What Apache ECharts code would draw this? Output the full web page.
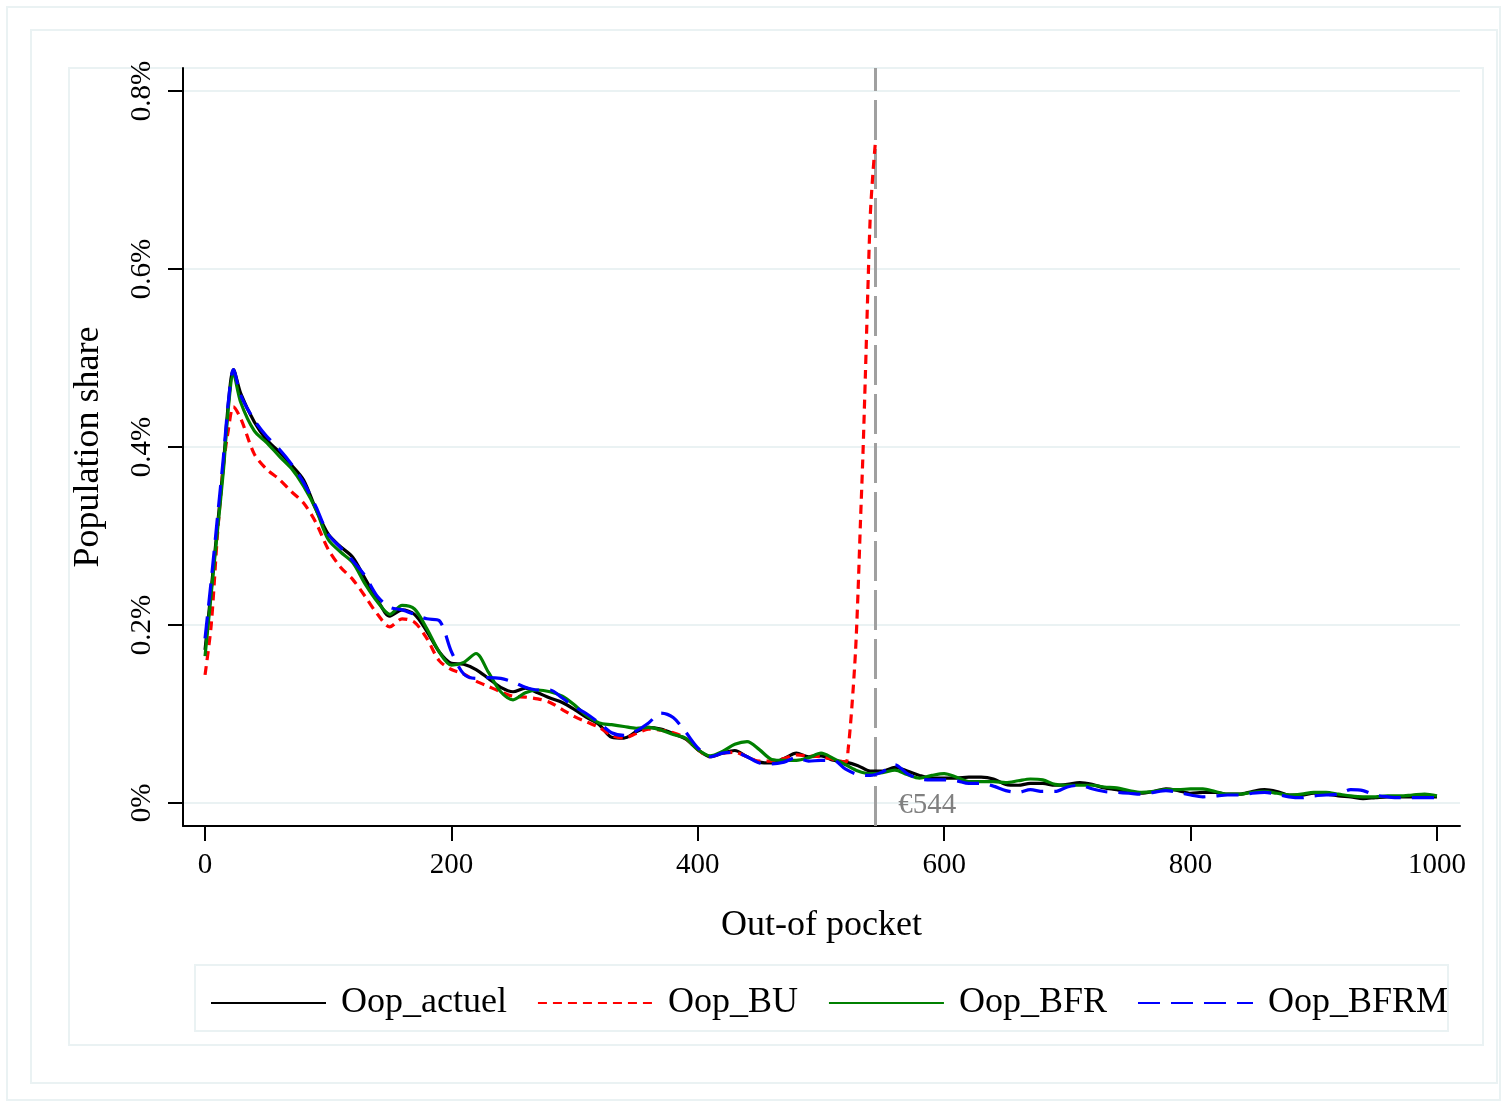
<!DOCTYPE html>
<html>
<head>
<meta charset="utf-8">
<script src="https://cdn.jsdelivr.net/npm/echarts@6/dist/echarts.min.js"></script>
<style>
  html, body { margin: 0; padding: 0; background: #fff; }
  #chart { width: 1507px; height: 1105px; }
</style>
</head>
<body>
<div id="chart"></div>
<script>
// x positions (out-of-pocket, €)
const xs = [0, 5, 10, 15, 19, 23, 29,
  40, 50, 60, 70, 80, 90, 100, 110, 120, 130, 140,
  150, 160, 170, 180, 190, 200, 210, 220, 230, 240, 250,
  260, 270, 280, 290, 300, 310, 320, 330, 340, 350, 360,
  370, 380, 390, 400, 410, 420, 430, 440, 450, 460, 470,
  480, 490, 500, 510, 520, 530, 540, 550, 560, 570, 580,
  590, 600, 610, 620, 630, 640, 650, 660, 670, 680, 690,
  700, 710, 720, 730, 740, 750, 760, 770, 780, 790, 800,
  810, 820, 830, 840, 850, 860, 870, 880, 890, 900, 910,
  920, 930, 940, 950, 960, 970, 980, 990, 1000]

// population share (%)
const oopActuel = [0.172, 0.24, 0.31, 0.382, 0.45, 0.487, 0.46,
  0.428, 0.408, 0.395, 0.380, 0.363, 0.330, 0.302, 0.288, 0.276, 0.252, 0.228,
  0.210, 0.217, 0.212, 0.193, 0.170, 0.157, 0.156, 0.150, 0.140, 0.130, 0.125,
  0.129, 0.124, 0.118, 0.113, 0.105, 0.096, 0.088, 0.074, 0.073, 0.080, 0.085,
  0.083, 0.078, 0.072, 0.060, 0.052, 0.056, 0.059, 0.052, 0.046, 0.045, 0.050,
  0.056, 0.052, 0.053, 0.048, 0.046, 0.042, 0.036, 0.036, 0.040, 0.036, 0.031,
  0.028, 0.028, 0.028, 0.029, 0.029, 0.027, 0.021, 0.020, 0.022, 0.022, 0.020,
  0.021, 0.023, 0.021, 0.017, 0.015, 0.012, 0.011, 0.013, 0.016, 0.014, 0.011,
  0.012, 0.012, 0.010, 0.010, 0.013, 0.015, 0.013, 0.009, 0.009, 0.011, 0.010,
  0.008, 0.007, 0.005, 0.006, 0.007, 0.007, 0.007, 0.007, 0.007]

const oopBFR = [0.165, 0.235, 0.305, 0.375, 0.445, 0.482, 0.45,
  0.418, 0.405, 0.390, 0.376, 0.356, 0.330, 0.296, 0.282, 0.270, 0.246, 0.226,
  0.212, 0.222, 0.218, 0.196, 0.170, 0.155, 0.158, 0.168, 0.147, 0.125, 0.116,
  0.124, 0.127, 0.125, 0.120, 0.110, 0.098, 0.090, 0.088, 0.086, 0.084, 0.085,
  0.082, 0.077, 0.073, 0.060, 0.053, 0.058, 0.066, 0.069, 0.060, 0.049, 0.048,
  0.048, 0.051, 0.056, 0.050, 0.043, 0.036, 0.033, 0.034, 0.037, 0.032, 0.028,
  0.031, 0.033, 0.029, 0.024, 0.024, 0.024, 0.023, 0.025, 0.027, 0.026, 0.021,
  0.020, 0.020, 0.020, 0.018, 0.017, 0.014, 0.012, 0.013, 0.015, 0.015, 0.016,
  0.016, 0.013, 0.010, 0.010, 0.012, 0.013, 0.011, 0.009, 0.010, 0.012, 0.012,
  0.010, 0.008, 0.007, 0.007, 0.008, 0.008, 0.009, 0.010, 0.008]

const oopBFRM = [0.185, 0.25, 0.32, 0.39, 0.452, 0.487, 0.458,
  0.430, 0.412, 0.398, 0.381, 0.360, 0.333, 0.302, 0.287, 0.272, 0.255, 0.232,
  0.220, 0.217, 0.212, 0.207, 0.205, 0.170, 0.145, 0.140, 0.141, 0.140, 0.136,
  0.130, 0.127, 0.127, 0.118, 0.108, 0.100, 0.090, 0.079, 0.076, 0.081, 0.090,
  0.101, 0.096, 0.080, 0.062, 0.052, 0.056, 0.057, 0.052, 0.045, 0.044, 0.046,
  0.051, 0.047, 0.048, 0.048, 0.038, 0.032, 0.031, 0.035, 0.043, 0.033, 0.027,
  0.026, 0.026, 0.025, 0.022, 0.022, 0.019, 0.014, 0.012, 0.015, 0.013, 0.013,
  0.018, 0.020, 0.016, 0.013, 0.012, 0.011, 0.010, 0.012, 0.014, 0.012, 0.009,
  0.007, 0.008, 0.009, 0.009, 0.011, 0.012, 0.010, 0.007, 0.006, 0.008, 0.009,
  0.010, 0.015, 0.014, 0.009, 0.007, 0.006, 0.006, 0.006, 0.006]

// Oop_BU stops at the €544 threshold, with a spike just before it
const oopBU = [0.144, 0.20, 0.30, 0.38, 0.42, 0.445, 0.432,
  0.392, 0.375, 0.364, 0.350, 0.337, 0.315, 0.285, 0.265, 0.251, 0.232, 0.212,
  0.198, 0.207, 0.203, 0.185, 0.160, 0.150, 0.145, 0.137, 0.131, 0.125, 0.120,
  0.119, 0.117, 0.113, 0.105, 0.097, 0.091, 0.085, 0.076, 0.073, 0.078, 0.083,
  0.082, 0.079, 0.073, 0.060, 0.052, 0.056, 0.057, 0.052, 0.047, 0.047, 0.050,
  0.054, 0.053, 0.052, 0.049, 0.046]
const spikeX = [522, 525, 528, 530, 532, 534, 536, 538, 540, 542, 544]
const spikeBU = [0.060, 0.107, 0.170, 0.235, 0.315, 0.390, 0.480, 0.575, 0.660, 0.705, 0.740]

const threshold = 544
const xTicks = [0, 200, 400, 600, 800, 1000]
const yTicks = [0, 0.2, 0.4, 0.6, 0.8]

const pairs = (x, y) => y.map((v, i) => [x[i], v])

const font = "'Liberation Serif', 'Times New Roman', serif"
const light = '#eaf2f3'

const chart = echarts.init(document.getElementById('chart'))

const option = {
  animation: false,
  backgroundColor: '#fff',
  textStyle: { fontFamily: font },
  graphic: [
    { type: 'rect', shape: { x: 7, y: 7, width: 1493, height: 1093 }, style: { fill: 'none', stroke: light, lineWidth: 2 }, z: -10 },
    { type: 'rect', shape: { x: 31, y: 30, width: 1466, height: 1053 }, style: { fill: 'none', stroke: light, lineWidth: 2 }, z: -10 },
    { type: 'rect', shape: { x: 69, y: 68, width: 1414, height: 977 }, style: { fill: 'none', stroke: light, lineWidth: 2 }, z: -10 }
  ],
  grid: {
    left: 183,
    top: 68,
    width: 1277,
    height: 758,
    containLabel: false
  },
  legend: {
    data: ['Oop_actuel', 'Oop_BU', 'Oop_BFR', 'Oop_BFRM'],
    left: 195,
    top: 965,
    orient: 'horizontal',
    itemWidth: 115,
    itemHeight: 14,
    itemGap: 30,
    padding: [19, 0, 9, 15],
    borderColor: light,
    borderWidth: 2,
    itemStyle: { opacity: 0 },
    textStyle: { fontFamily: font, fontSize: 36, color: '#000', lineHeight: 38, padding: [0, 0, 0, 10] }
  },
  xAxis: {
    type: 'value',
    min: -17.9,
    max: 1018.7,
    name: 'Out-of pocket',
    nameLocation: 'middle',
    nameGap: 82,
    nameTextStyle: { fontFamily: font, fontSize: 36, color: '#000' },
    axisLine: { show: true, onZero: false, lineStyle: { color: '#000', width: 2 } },
    axisTick: { show: true, length: 15, customValues: xTicks, lineStyle: { color: '#000', width: 2 } },
    axisLabel: {
      customValues: xTicks,
      margin: 25,
      fontFamily: font,
      fontSize: 29,
      color: '#000',
      formatter: v => String(v)
    },
    splitLine: { show: false }
  },
  yAxis: {
    type: 'value',
    min: -0.0258,
    max: 0.8258,
    name: 'Population share',
    nameLocation: 'middle',
    nameGap: 76,
    nameTextStyle: { fontFamily: font, fontSize: 36, color: '#000' },
    axisLine: { show: true, onZero: false, lineStyle: { color: '#000', width: 2 } },
    axisTick: { show: true, length: 15, customValues: yTicks, lineStyle: { color: '#000', width: 2 } },
    axisLabel: {
      customValues: yTicks,
      rotate: 90,
      margin: 26,
      fontFamily: font,
      fontSize: 29,
      color: '#000',
      formatter: v => (v === 0 ? '0%' : v.toFixed(1) + '%')
    },
    splitLine: { show: true, lineStyle: { color: light, width: 2 } }
  },
  series: [
    {
      name: 'Oop_actuel',
      type: 'line',
      data: pairs(xs, oopActuel),
      smooth: 0.3,
      symbol: 'none',
      lineStyle: { color: '#000', width: 3.2 },
      itemStyle: { color: '#000' },
      z: 3,
      markLine: {
        silent: true,
        symbol: 'none',
        z: 1,
        label: { show: false },
        lineStyle: { color: '#a0a0a0', width: 3, type: [40, 9] },
        data: [{ xAxis: threshold }]
      },
      markPoint: {
        silent: true,
        symbol: 'circle',
        symbolSize: 0,
        data: [{ coord: [threshold, 0] }],
        label: {
          show: true,
          position: 'right',
          distance: 23,
          offset: [0, 2],
          formatter: '€' + threshold,
          fontFamily: font,
          fontSize: 29,
          color: '#808080'
        }
      }
    },
    {
      name: 'Oop_BU',
      type: 'line',
      data: pairs(xs.slice(0, oopBU.length).concat(spikeX), oopBU.concat(spikeBU)),
      smooth: 0.3,
      symbol: 'none',
      lineStyle: { color: '#ff0000', width: 3.2, type: [9, 6] },
      itemStyle: { color: '#ff0000' },
      z: 4
    },
    {
      name: 'Oop_BFR',
      type: 'line',
      data: pairs(xs, oopBFR),
      smooth: 0.3,
      symbol: 'none',
      lineStyle: { color: '#008000', width: 3.2 },
      itemStyle: { color: '#008000' },
      z: 5
    },
    {
      name: 'Oop_BFRM',
      type: 'line',
      data: pairs(xs, oopBFRM),
      smooth: 0.3,
      symbol: 'none',
      lineStyle: { color: '#0000ff', width: 3.2, type: [22, 11] },
      itemStyle: { color: '#0000ff' },
      z: 6
    }
  ]
}

chart.setOption(option)
</script>
</body>
</html>
